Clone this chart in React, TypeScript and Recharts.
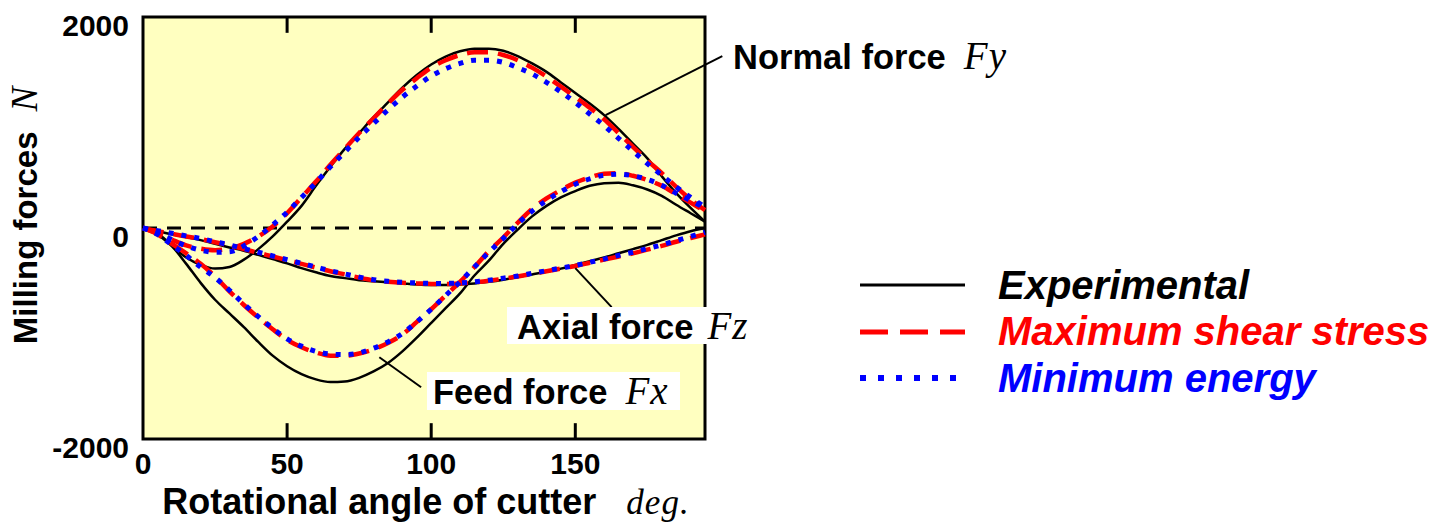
import {
  LineChart,
  Line,
  XAxis,
  YAxis,
  ReferenceArea,
  ReferenceLine,
} from 'recharts';

// rotational angle of cutter, deg.
const angles = [
  0, 5, 10, 15, 20, 25, 30, 35, 40, 45, 50, 55, 60, 65, 70, 75, 80, 85, 90, 95,
  100, 105, 110, 115, 120, 125, 130, 135, 140, 145, 150, 155, 160, 165, 170, 175, 180, 185, 190, 195,
];

// Normal force Fy
const fyExperimental = [
  0, -60, -170, -280, -350, -385, -370, -300, -200, -80, 60, 210, 400, 580, 750, 900, 1050, 1190, 1330, 1450,
  1550, 1625, 1675, 1700, 1700, 1680, 1630, 1560, 1480, 1380, 1280, 1180, 1070, 940, 800, 660, 490, 330, 190, 60,
];
const fyShear = [
  0, -50, -110, -165, -195, -210, -195, -150, -80, 15, 140, 290, 440, 600, 750, 900, 1040, 1180, 1310, 1420,
  1520, 1590, 1640, 1665, 1665, 1640, 1590, 1520, 1435, 1340, 1240, 1140, 1030, 900, 770, 640, 520, 390, 270, 170,
];
const fyEnergy = [
  0, -50, -110, -170, -210, -230, -225, -170, -80, 30, 150, 290, 430, 580, 720, 860, 990, 1120, 1240, 1345,
  1440, 1510, 1560, 1590, 1590, 1570, 1520, 1460, 1380, 1290, 1190, 1080, 970, 850, 730, 610, 500, 390, 290, 200,
];

// Feed force Fx
const fxExperimental = [
  0, -50, -170, -340, -520, -680, -810, -940, -1080, -1210, -1310, -1385, -1435, -1460, -1455, -1420, -1360, -1280, -1170, -1040,
  -900, -760, -620, -450, -310, -150, -15, 110, 210, 290, 350, 400, 425, 430, 405, 365, 305, 220, 140, 60,
];
const fxShear = [
  0, -60, -150, -240, -340, -460, -600, -730, -850, -960, -1060, -1130, -1180, -1210, -1210, -1190, -1150, -1090, -1010, -890,
  -770, -640, -510, -370, -220, -90, 50, 180, 280, 360, 430, 480, 515, 520, 495, 455, 400, 320, 240, 160,
];
const fxEnergy = [
  0, -60, -160, -260, -370, -470, -590, -720, -840, -950, -1050, -1120, -1170, -1195, -1200, -1185, -1140, -1080, -1000, -890,
  -770, -640, -510, -370, -230, -100, 40, 160, 260, 345, 415, 465, 500, 510, 495, 460, 405, 330, 260, 190,
];

// Axial force Fz
const fzExperimental = [
  0, -30, -60, -85, -115, -150, -185, -215, -255, -295, -335, -380, -420, -455, -475, -495, -505, -515, -525, -535,
  -540, -540, -535, -525, -510, -490, -465, -440, -415, -385, -350, -315, -280, -240, -200, -160, -115, -70, -30, 0,
];
const fzShear = [
  0, -30, -55, -80, -105, -135, -165, -200, -235, -270, -305, -340, -375, -410, -440, -470, -495, -510, -520, -525,
  -530, -530, -525, -515, -500, -480, -460, -435, -410, -385, -360, -330, -300, -270, -240, -205, -170, -130, -95, -60,
];
const fzEnergy = [
  0, -25, -50, -75, -100, -130, -160, -195, -230, -265, -300, -335, -370, -405, -435, -465, -490, -505, -515, -520,
  -525, -525, -520, -510, -495, -475, -455, -430, -405, -380, -355, -325, -295, -260, -230, -195, -160, -120, -80, -40,
];

const xTicks = [0, 50, 100, 150];
const yTicks = [-2000, 0, 2000];

const legendItems = [
  { name: 'Experimental', color: '#000000', dash: '', width: 3 },
  { name: 'Maximum shear stress', color: '#ff0000', dash: '28 12', width: 5 },
  { name: 'Minimum energy', color: '#0000ff', dash: '6 12', width: 6 },
];

const data = angles.map((angle, i) => ({
  angle,
  fyExp: fyExperimental[i],
  fyShear: fyShear[i],
  fyEnergy: fyEnergy[i],
  fxExp: fxExperimental[i],
  fxShear: fxShear[i],
  fxEnergy: fxEnergy[i],
  fzExp: fzExperimental[i],
  fzShear: fzShear[i],
  fzEnergy: fzEnergy[i],
}));

const SANS = '"Liberation Sans", Arial, sans-serif';
const SERIF = '"Liberation Serif", "Times New Roman", serif';

function XTick({ x, y, payload }: any) {
  return (
    <text x={x} y={y + 35} textAnchor="middle" fontFamily={SANS} fontSize={30} fontWeight="bold" fill="#000">
      {payload.value}
    </text>
  );
}

function YTick({ x, y, payload }: any) {
  return (
    <text x={x - 14} y={y + 19} textAnchor="end" fontFamily={SANS} fontSize={30} fontWeight="bold" fill="#000">
      {payload.value}
    </text>
  );
}

function LegendBox() {
  return (
    <div style={{ position: 'absolute', left: 858, top: 262 }}>
      {legendItems.map((item) => (
        <div key={item.name} style={{ display: 'flex', alignItems: 'center', height: 46.5 }}>
          <svg width={110} height={20}>
            <line
              x1={2}
              y1={10}
              x2={107}
              y2={10}
              stroke={item.color}
              strokeWidth={item.width}
              strokeDasharray={item.dash || undefined}
            />
          </svg>
          <span
            style={{
              marginLeft: 30,
              fontFamily: SANS,
              fontSize: 40,
              fontWeight: 'bold',
              fontStyle: 'italic',
              color: item.color,
              whiteSpace: 'nowrap',
            }}
          >
            {item.name}
          </span>
        </div>
      ))}
    </div>
  );
}

const labelText = { fontFamily: SANS, fontSize: 34.5, fontWeight: 'bold' as const, color: '#000' };
const symbolText = {
  fontFamily: SERIF,
  fontSize: 39,
  fontStyle: 'italic' as const,
  color: '#000',
  marginLeft: 18,
  letterSpacing: 1,
};

export default function App() {
  return (
    <div style={{ position: 'absolute', left: 0, top: 0, width: 1437, height: 528, background: '#fff' }}>
      <LineChart width={1437} height={528} data={data} margin={{ top: 17, right: 732, bottom: 29, left: 83 }}>
        <ReferenceArea
          x1={0}
          x2={195}
          y1={-2000}
          y2={2000}
          fill="#ffffc0"
          fillOpacity={1}
          stroke="#000"
          strokeWidth={3}
          zIndex={-10}
        />
        <XAxis
          dataKey="angle"
          type="number"
          domain={[0, 195]}
          ticks={xTicks}
          axisLine={false}
          tickLine={false}
          tickSize={0}
          tickMargin={0}
          tick={<XTick />}
          height={60}
          interval={0}
        />
        <YAxis
          type="number"
          domain={[-2000, 2000]}
          ticks={yTicks}
          axisLine={false}
          tickLine={false}
          tickSize={0}
          tickMargin={0}
          tick={<YTick />}
          width={60}
          interval={0}
        />
        <ReferenceLine y={0} stroke="#000" strokeWidth={3} strokeDasharray="14 10" />
        {xTicks.slice(1).map((t) => (
          <ReferenceLine key={`b${t}`} segment={[{ x: t, y: -2000 }, { x: t, y: -1850 }]} stroke="#000" strokeWidth={3} />
        ))}
        {xTicks.slice(1).map((t) => (
          <ReferenceLine key={`t${t}`} segment={[{ x: t, y: 2000 }, { x: t, y: 1850 }]} stroke="#000" strokeWidth={3} />
        ))}

        <Line type="monotone" dataKey="fyExp" stroke="#000" strokeWidth={2.5} dot={false} isAnimationActive={false} />
        <Line type="monotone" dataKey="fxExp" stroke="#000" strokeWidth={2.5} dot={false} isAnimationActive={false} />
        <Line type="monotone" dataKey="fzExp" stroke="#000" strokeWidth={2.5} dot={false} isAnimationActive={false} />
        <Line type="monotone" dataKey="fyShear" stroke="#ff0000" strokeWidth={4.5} strokeDasharray="21 10" dot={false} isAnimationActive={false} />
        <Line type="monotone" dataKey="fxShear" stroke="#ff0000" strokeWidth={4.5} strokeDasharray="21 10" dot={false} isAnimationActive={false} />
        <Line type="monotone" dataKey="fzShear" stroke="#ff0000" strokeWidth={4.5} strokeDasharray="21 10" dot={false} isAnimationActive={false} />
        <Line type="monotone" dataKey="fyEnergy" stroke="#0000ff" strokeWidth={5} strokeDasharray="5 8" dot={false} isAnimationActive={false} />
        <Line type="monotone" dataKey="fxEnergy" stroke="#0000ff" strokeWidth={5} strokeDasharray="5 8" dot={false} isAnimationActive={false} />
        <Line type="monotone" dataKey="fzEnergy" stroke="#0000ff" strokeWidth={5} strokeDasharray="5 8" dot={false} isAnimationActive={false} />

        {/* leader lines for the annotations */}
        <ReferenceLine segment={[{ x: 160.5, y: 1070 }, { x: 201, y: 1630 }]} stroke="#000" strokeWidth={2} ifOverflow="visible" />
        <ReferenceLine segment={[{ x: 150, y: -380 }, { x: 162.6, y: -750 }]} stroke="#000" strokeWidth={2} ifOverflow="visible" />
        <ReferenceLine segment={[{ x: 82, y: -1225 }, { x: 96.5, y: -1510 }]} stroke="#000" strokeWidth={2} ifOverflow="visible" />
      </LineChart>

      <LegendBox />

      {/* annotations */}
      <div style={{ position: 'absolute', left: 733, top: 36, whiteSpace: 'nowrap', lineHeight: '40px' }}>
        <span style={labelText}>Normal force</span>
        <span style={symbolText}>Fy</span>
      </div>
      <div
        style={{
          position: 'absolute',
          left: 507,
          top: 307,
          width: 256,
          height: 37,
          background: '#fff',
          whiteSpace: 'nowrap',
          lineHeight: '37px',
          paddingLeft: 10,
          boxSizing: 'border-box',
        }}
      >
        <span style={labelText}>Axial force</span>
        <span style={{ ...symbolText, marginLeft: 14 }}>Fz</span>
      </div>
      <div
        style={{
          position: 'absolute',
          left: 427,
          top: 372,
          width: 253,
          height: 38,
          background: '#fff',
          whiteSpace: 'nowrap',
          lineHeight: '38px',
          paddingLeft: 6,
          boxSizing: 'border-box',
        }}
      >
        <span style={labelText}>Feed force</span>
        <span style={symbolText}>Fx</span>
      </div>

      {/* axis titles */}
      <div
        style={{
          position: 'absolute',
          left: 28,
          top: 215,
          transform: 'translate(-50%, -50%) rotate(-90deg)',
          whiteSpace: 'nowrap',
          lineHeight: '40px',
        }}
      >
        <span style={{ ...labelText, fontSize: 33 }}>Milling forces</span>
        <span style={{ ...symbolText, fontSize: 37, marginLeft: 20 }}>N</span>
      </div>
      <div
        style={{
          position: 'absolute',
          left: 426,
          top: 505,
          transform: 'translate(-50%, -50%)',
          whiteSpace: 'nowrap',
          lineHeight: '36px',
        }}
      >
        <span style={{ ...labelText, fontSize: 36 }}>Rotational angle of cutter</span>
        <span style={{ ...symbolText, fontSize: 35, marginLeft: 30 }}>deg.</span>
      </div>
    </div>
  );
}
